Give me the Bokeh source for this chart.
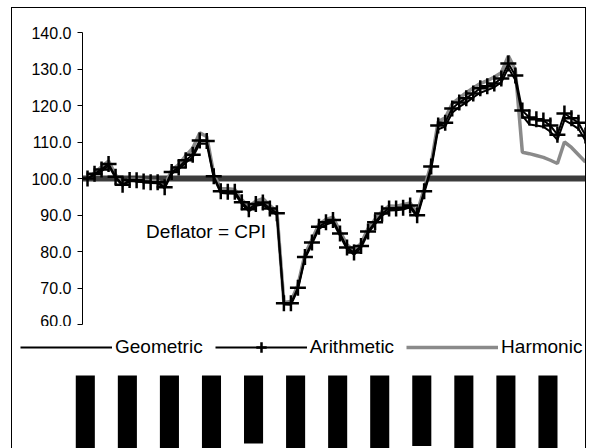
from bokeh.plotting import figure
from bokeh.models import (Range1d, FixedTicker, Span, Label, Legend, LegendItem,
                          NumeralTickFormatter)
from bokeh.layouts import column
from bokeh.embed import file_html
from bokeh.resources import INLINE
from bokeh.transform import dodge

# ---------------- data ----------------
periods = list(range(72))

geometric = [100.0, 101.0, 102.0, 103.5, 100.2, 98.0, 99.3, 99.2, 99.0, 98.8,
             98.7, 97.3, 101.3, 102.5, 104.3, 105.8, 109.6, 109.5, 100.2, 96.0,
             95.9, 95.8, 93.0, 91.0, 92.5, 92.9, 91.3, 90.0, 65.5, 65.4,
             69.6, 78.0, 82.0, 86.2, 87.4, 88.0, 84.3, 80.6, 79.1, 81.0,
             85.0, 87.5, 89.8, 91.2, 91.3, 91.5, 92.1, 89.4, 96.0, 102.5,
             113.5, 114.2, 118.0, 119.6, 120.8, 122.2, 123.5, 124.2, 125.0, 126.3,
             130.3, 127.0, 117.2, 114.8, 114.5, 114.2, 112.8, 110.6, 116.0, 114.9,
             113.6, 110.4]

arithmetic = [100.0, 101.3, 102.5, 104.0, 100.5, 98.3, 99.6, 99.5, 99.2, 99.0,
              99.0, 97.6, 101.8, 103.0, 105.0, 106.5, 110.4, 110.3, 100.6, 96.5,
              96.4, 96.4, 93.5, 91.6, 93.0, 93.4, 91.8, 90.5, 65.8, 65.8,
              70.1, 78.5, 82.5, 86.8, 88.0, 88.6, 84.9, 81.1, 79.7, 81.5,
              85.5, 88.0, 90.4, 91.8, 91.8, 92.0, 92.6, 89.9, 96.5, 103.3,
              114.5, 115.3, 119.2, 120.8, 122.0, 123.3, 124.7, 125.3, 126.0, 127.4,
              131.5, 128.2, 118.6, 116.7, 116.2, 115.9, 114.5, 112.0, 117.8, 116.5,
              115.3, 111.8]

harmonic = [100.0, 101.6, 103.2, 104.8, 101.0, 98.6, 99.8, 99.8, 99.5, 99.3,
            99.3, 98.0, 102.3, 103.8, 106.2, 108.3, 112.5, 111.5, 101.2, 97.2,
            97.2, 97.0, 94.2, 92.3, 93.8, 94.5, 92.6, 91.0, 66.0, 66.3,
            70.8, 79.2, 83.3, 87.5, 88.8, 89.4, 85.5, 81.8, 80.4, 82.2,
            86.3, 88.8, 91.0, 92.5, 92.4, 92.8, 93.3, 90.6, 97.2, 104.0,
            115.6, 116.6, 120.5, 122.0, 123.5, 124.8, 126.0, 126.8, 127.8, 129.0,
            133.6, 129.8, 107.2, 106.8, 106.3, 105.8, 105.0, 104.1, 110.0, 108.5,
            106.5, 104.5]

cpi_level = 100.0
annotation_text = "Deflator = CPI"
series_names = ["Geometric", "Arithmetic", "Harmonic"]
y_ticks = [60, 70, 80, 90, 100, 110, 120, 130, 140]
label_periods = [0, 6, 12, 18, 24, 30, 36, 42, 48, 54, 60, 66]

# ---------------- styling ----------------
FONT = "Liberation Sans"
BORDER = "1px solid black"

p = figure(width=575, height=319, output_backend="svg", toolbar_location=None,
           x_range=Range1d(-0.716, 71.29), y_range=Range1d(60, 140),
           min_border_left=70, min_border_right=0, min_border_top=24,
           min_border_bottom=3, x_axis_location=None)
p.frame_align = False
p.outline_line_color = None
p.grid.visible = False
p.styles = {"border-top": BORDER, "border-left": BORDER, "border-right": BORDER}

ya = p.yaxis[0]
ya.ticker = FixedTicker(ticks=y_ticks)
ya.formatter = NumeralTickFormatter(format="0.0")
ya.major_label_text_font = FONT
ya.major_label_text_font_size = "16px"
ya.major_label_text_color = "black"
ya.major_tick_out = 5
ya.major_tick_in = 0
ya.minor_tick_out = 0
ya.minor_tick_in = 0
ya.major_label_standoff = 6
ya.axis_line_color = "black"
ya.major_tick_line_color = "black"

ref = Span(location=cpi_level, dimension="width", line_color="#3c3c3c",
           line_width=6, line_cap="round", level="underlay")
p.add_layout(ref)

r_h = p.line(periods, harmonic, line_color="#8a8a8a", line_width=3.5)
r_g = p.line(periods, geometric, line_color="black", line_width=2)
r_a = p.line(periods, arithmetic, line_color="black", line_width=2)
r_am = p.scatter(periods, arithmetic, marker="cross", size=16,
                 line_color="black", line_width=2.5)

lab = Label(x=16.9, y=85.4, text=annotation_text, text_align="center",
            text_baseline="middle", text_font=FONT, text_font_size="19px",
            text_color="black")
p.add_layout(lab)

# lower panel: legend + x-axis category labels (solid black blocks in the reference)
q = figure(width=575, height=122, output_backend="svg", toolbar_location=None,
           x_range=Range1d(-10.736, 71.29), y_range=Range1d(0, 122),
           min_border_left=0, min_border_right=0, min_border_top=0,
           min_border_bottom=0, x_axis_location=None, y_axis_location=None)
q.frame_align = False
q.outline_line_color = None
q.grid.visible = False
q.styles = {"border-left": BORDER, "border-right": BORDER}

box_bottom = [-10, -10, -10, -10, 5.0, -10, -10, -10, 2.5, -10, -10, -10]
q.vbar(x=dodge("x", -0.35, range=q.x_range), width=2.72, top=73, bottom="b",
       source=dict(x=label_periods, b=box_bottom),
       fill_color="black", line_color=None)

lg = q.line(periods, geometric, line_color="black", line_width=2, visible=False)
la = q.line(periods, arithmetic, line_color="black", line_width=2, visible=False)
lam = q.scatter(periods, arithmetic, marker="cross", size=16, line_color="black",
                line_width=2.5, visible=False)
lh = q.line(periods, harmonic, line_color="#8a8a8a", line_width=3.5, visible=False)

legend = Legend(items=[LegendItem(label=series_names[0], renderers=[lg]),
                       LegendItem(label=series_names[1], renderers=[la, lam]),
                       LegendItem(label=series_names[2], renderers=[lh])],
                orientation="horizontal", location=(8, 88.5),
                glyph_width=92, glyph_height=26, label_height=26,
                label_standoff=3, spacing=12, padding=0, margin=0,
                label_text_font=FONT, label_text_font_size="19px",
                label_text_color="black", border_line_color=None,
                background_fill_color="white", background_fill_alpha=1.0,
                click_policy="none")
q.add_layout(legend)

layout = column(p, q, spacing=0)
layout.margin = (7, 0, 0, 11)

open("out.html", "w").write(file_html(layout, INLINE))
